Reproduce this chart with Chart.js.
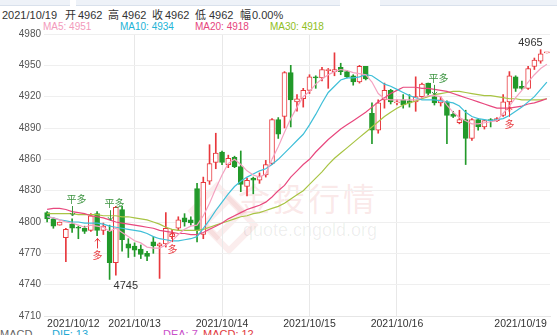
<!DOCTYPE html>
<html>
<head>
<meta charset="utf-8">
<script src="https://cdn.jsdelivr.net/npm/chart.js@4.4.0/dist/chart.umd.min.js"></script>
<style>
    body
    {
        margin: 0;
        width: 557px;
        height: 335px;
        overflow: hidden;
        position: relative;
        background: #ffffff;
        font-family: "Liberation Sans", Arial, "Noto Sans CJK SC", sans-serif;
    }
    .tab { position: absolute; top: 0; height: 5px; background: #eef2f8; border-bottom: 1px solid #d9e1ec; }
    .txt { position: absolute; white-space: nowrap; line-height: 12px; }
    #watermark { position: absolute; left: 0; top: 0; width: 557px; height: 335px; }
    .wm-logo { position: absolute; width: 30px; height: 30px; border: 6px solid rgba(232, 140, 140, 0.16); transform: rotate(45deg); }
    .wm-title { position: absolute; left: 238px; top: 174px; font-size: 32px; letter-spacing: 3px; color: rgba(232, 140, 140, 0.2); font-family: "Noto Sans CJK SC", sans-serif; }
    .wm-url { position: absolute; left: 243px; top: 220px; font-size: 18px; color: rgba(0, 0, 0, 0.07); }
    #wrap { position: absolute; left: 0; top: 0; width: 557px; height: 335px; }
</style>
</head>
<body>
<div class="tab" style="left:0;width:70px"></div>
<div class="tab" style="left:76px;width:264px"></div>
<div class="tab" style="left:380px;width:177px"></div>

<div id="watermark">
    <div class="wm-logo" style="left:196px;top:190px"></div>
    <div class="wm-logo" style="left:208px;top:204px"></div>
    <div class="wm-title">金投行情</div>
    <div class="wm-url">quote.cngold.org</div>
</div>

<div id="header"></div>

<div id="wrap"><canvas id="kChart"></canvas></div>

<script>
const dayLabels = ["2021/10/12", "2021/10/13", "2021/10/14", "2021/10/15", "2021/10/16", "2021/10/19"];
const dayIndex = [0, 14, 28, 42, 56, 80];
const yTicks = {min: 4710, max: 4980, step: 30};

const openPrice = [
    4809, 4803, 4797, 4785, 4798, 4795, 4794, 4792, 4808, 4792,
    4791, 4761, 4812, 4779, 4777, 4774, 4770, 4781, 4777, 4779,
    4786, 4794, 4804, 4802, 4832, 4788, 4839, 4857, 4867, 4855,
    4862, 4853, 4834, 4842, 4840, 4845, 4856, 4898, 4901, 4943,
    4915, 4918, 4926, 4939, 4938, 4945, 4944, 4948, 4944, 4940,
    4934, 4949, 4904, 4888, 4917, 4926, 4914, 4917, 4916, 4915,
    4920, 4933, 4920, 4914, 4915, 4903, 4895, 4898, 4880, 4898,
    4891, 4898, 4897, 4902, 4915, 4939, 4930, 4928, 4949, 4954,
    4962
];
const highPrice = [
    4810, 4804, 4800, 4794, 4803, 4796, 4796, 4808, 4810, 4799,
    4797, 4815, 4815, 4784, 4780, 4778, 4772, 4786, 4780, 4809,
    4793, 4805, 4808, 4805, 4837, 4843, 4874, 4885, 4868, 4864,
    4863, 4868, 4842, 4843, 4847, 4859, 4899, 4900, 4944, 4950,
    4922, 4928, 4941, 4940, 4948, 4947, 4962, 4952, 4945, 4941,
    4950, 4949, 4914, 4917, 4933, 4927, 4917, 4922, 4922, 4939,
    4933, 4933, 4923, 4920, 4916, 4906, 4907, 4907, 4899, 4899,
    4898, 4899, 4900, 4922, 4944, 4940, 4935, 4949, 4957, 4965,
    4962
];
const lowPrice = [
    4800, 4794, 4797, 4762, 4790, 4784, 4789, 4791, 4787, 4788,
    4745, 4749, 4772, 4766, 4767, 4765, 4763, 4770, 4746, 4776,
    4784, 4792, 4796, 4797, 4781, 4784, 4836, 4851, 4855, 4852,
    4852, 4829, 4825, 4827, 4837, 4843, 4855, 4880, 4890, 4891,
    4906, 4910, 4923, 4928, 4935, 4928, 4940, 4941, 4938, 4931,
    4933, 4936, 4875, 4885, 4909, 4913, 4912, 4909, 4910, 4906,
    4918, 4920, 4912, 4911, 4875, 4900, 4894, 4855, 4878, 4888,
    4889, 4891, 4896, 4901, 4906, 4925, 4927, 4927, 4946, 4952,
    4962
];
const closePrice = [
    4803, 4796, 4800, 4793, 4794, 4794, 4791, 4806, 4792, 4796,
    4761, 4814, 4783, 4775, 4773, 4769, 4767, 4777, 4779, 4794,
    4789, 4802, 4800, 4799, 4792, 4838, 4856, 4866, 4857, 4861,
    4853, 4836, 4840, 4840, 4844, 4855, 4898, 4884, 4943, 4917,
    4918, 4926, 4939, 4938, 4946, 4946, 4946, 4944, 4939, 4934,
    4949, 4937, 4888, 4914, 4926, 4915, 4915, 4912, 4914, 4920,
    4932, 4923, 4914, 4917, 4902, 4901, 4898, 4880, 4898, 4891,
    4897, 4897, 4899, 4915, 4940, 4928, 4928, 4947, 4955, 4961,
    4962
];

const ma5 = [
    4805, 4804, 4802, 4800, 4799, 4797, 4795, 4797, 4796, 4795,
    4791, 4794, 4790, 4786, 4782, 4780, 4776, 4775, 4775, 4778,
    4782, 4788, 4793, 4796, 4797, 4806, 4818, 4832, 4845, 4856,
    4860, 4855, 4849, 4845, 4843, 4846, 4860, 4872, 4886, 4899,
    4910, 4920, 4925, 4932, 4937, 4941, 4944, 4946, 4945, 4943,
    4942, 4941, 4934, 4923, 4918, 4917, 4917, 4917, 4917, 4917,
    4919, 4921, 4921, 4920, 4912, 4905, 4900, 4897, 4894, 4894,
    4895, 4896, 4897, 4904, 4911, 4919, 4926, 4934, 4941, 4947,
    4951
];
const ma10 = [
    4805, 4804, 4802, 4801, 4800, 4800, 4799, 4799, 4799, 4798,
    4796, 4795, 4794, 4793, 4792, 4791, 4789, 4786, 4784, 4783,
    4782, 4782, 4783, 4784, 4786, 4794, 4802, 4811, 4819, 4827,
    4834, 4839, 4843, 4846, 4849, 4851, 4855, 4860, 4866, 4872,
    4878, 4884, 4893, 4903, 4914, 4924, 4930, 4936, 4938, 4938,
    4939, 4941, 4940, 4936, 4932, 4930, 4927, 4924, 4921, 4919,
    4917, 4917, 4917, 4916, 4915, 4914, 4911, 4905, 4901, 4899,
    4898, 4897, 4898, 4899, 4902, 4906, 4910, 4915, 4920, 4927,
    4934
];
const ma20 = [
    4812, 4813, 4813, 4812, 4810, 4809, 4808, 4806, 4805, 4804,
    4802, 4800, 4799, 4798, 4797, 4796, 4795, 4794, 4792, 4791,
    4790, 4789, 4789, 4788, 4788, 4790, 4793, 4796, 4799, 4803,
    4806, 4809, 4812, 4814, 4816, 4819, 4824, 4830, 4835, 4843,
    4849, 4855, 4860, 4867, 4873, 4879, 4884, 4889, 4893, 4897,
    4901, 4905, 4910, 4915, 4919, 4923, 4926, 4929, 4929, 4929,
    4928, 4928, 4927, 4926, 4925, 4923, 4921, 4919, 4917, 4915,
    4913, 4911, 4909, 4909, 4909, 4910, 4911, 4913, 4914, 4916,
    4918
];
const ma30 = [
    4808, 4808, 4808, 4808, 4808, 4807, 4807, 4807, 4807, 4806,
    4806, 4806, 4805, 4805, 4804, 4803, 4802, 4800, 4798, 4795,
    4793, 4792, 4792, 4792, 4792, 4793, 4795, 4797, 4799, 4801,
    4803, 4805, 4806, 4808, 4809, 4811, 4813, 4815, 4818, 4822,
    4826, 4830, 4836, 4842, 4848, 4855, 4861, 4866, 4871, 4876,
    4881, 4886, 4891, 4896, 4901, 4905, 4909, 4912, 4914, 4916,
    4918, 4920, 4922, 4923, 4924, 4925, 4925, 4924, 4923, 4922,
    4921, 4921, 4920, 4919, 4918, 4918, 4917, 4917, 4917, 4917,
    4918
];

// trade signals: candle index, text, price where the text sits
const signalIndex = [4, 10, 62, 8, 20, 74];
const signalText = ["平多", "平多", "平多", "多", "多", "多"];
const signalPrice = [4822, 4818, 4938, 4768, 4774, 4894];

const macdNames = ["MACD", "DIF: 13", "DEA: 7", "MACD: 12"];

const upColor = "#e8383d";
const downColor = "#22992a";
const closeLongColor = "#3c9440";
const maColors = ["#f4a3c1", "#3fbfd8", "#e8487e", "#a8c444"];
const maTextColors = ["#f39abb", "#22b3d6", "#e6457d", "#8fbe22"];

const isUp = (i) => closePrice[i] >= openPrice[i];

const buildHeader = () =>
{
    const header = document.getElementById("header");
    const last = closePrice.length - 1;
    const change = ((closePrice[last] - openPrice[last]) / openPrice[last] * 100).toFixed(2) + "%";

    const line1 = [
        [dayLabels[dayLabels.length - 1], 2], ["开", 65], [String(openPrice[last]), 78],
        ["高", 108], [String(highPrice[last]), 122], ["收", 152], [String(closePrice[last]), 165],
        ["低", 195], [String(lowPrice[last]), 209], ["幅", 240], [change, 252]
    ];
    line1.forEach(([text, left]) =>
    {
        const span = document.createElement("div");
        span.className = "txt";
        span.style.cssText = "left:" + left + "px;top:9px;font-size:11px;color:#333";
        span.innerText = text;
        header.appendChild(span);
    });

    const maNames = ["MA5", "MA10", "MA20", "MA30"];
    const maLists = [ma5, ma10, ma20, ma30];
    const maLeft = [43, 120, 195, 270];
    maNames.forEach((name, n) =>
    {
        const span = document.createElement("div");
        span.className = "txt";
        span.style.cssText = "left:" + maLeft[n] + "px;top:21px;font-size:10px;color:" + maTextColors[n];
        span.innerText = name + ": " + maLists[n][maLists[n].length - 1];
        header.appendChild(span);
    });

    const macdLeft = [0, 52, 163, 203];
    const macdColors = ["#666", "#1fa9d4", "#c950c9", "#e0393e"];
    macdNames.forEach((name, n) =>
    {
        const span = document.createElement("div");
        span.className = "txt";
        span.style.cssText = "left:" + macdLeft[n] + "px;top:328px;font-size:11px;color:" + macdColors[n];
        span.innerText = name;
        header.appendChild(span);
    });
};

const crisp = (v) => Math.round(v) + 0.5;

const markerPlugin = {
    id: "markers",
    afterDatasetsDraw(chart)
    {
        const ctx = chart.ctx;
        const xScale = chart.scales.x;
        const yScale = chart.scales.y;

        ctx.save();
        ctx.font = "10px 'Noto Sans CJK SC', sans-serif";
        ctx.textAlign = "center";
        ctx.textBaseline = "middle";
        ctx.lineWidth = 1;

        signalIndex.forEach((idx, n) =>
        {
            const isClose = signalText[n] === "平多";
            const color = isClose ? closeLongColor : upColor;
            const x = crisp(xScale.getPixelForValue(idx));
            const ty = yScale.getPixelForValue(signalPrice[n]);
            const dir = isClose ? 1 : -1;
            const y0 = ty + dir * 7;
            const y1 = ty + dir * 17;

            ctx.fillStyle = color;
            ctx.strokeStyle = color;
            ctx.fillText(signalText[n], isClose ? x + 4 : x, ty);

            ctx.beginPath();
            ctx.moveTo(x, y0);
            ctx.lineTo(x, y1);
            ctx.moveTo(x - 2.5, y1 - dir * 3);
            ctx.lineTo(x, y1);
            ctx.lineTo(x + 2.5, y1 - dir * 3);
            ctx.stroke();
        });

        // highest high and lowest low labels
        const maxHigh = Math.max(...highPrice);
        const minLow = Math.min(...lowPrice);
        const hi = highPrice.indexOf(maxHigh);
        const lo = lowPrice.indexOf(minLow);

        ctx.font = "11px 'Liberation Sans', Arial, sans-serif";
        ctx.fillStyle = "#333";
        ctx.textAlign = "right";
        ctx.textBaseline = "bottom";
        ctx.fillText(String(maxHigh), xScale.getPixelForValue(hi) + 2, yScale.getPixelForValue(maxHigh) - 1);
        ctx.textAlign = "left";
        ctx.textBaseline = "top";
        ctx.fillText(String(minLow), xScale.getPixelForValue(lo) + 4, yScale.getPixelForValue(minLow) + 1);
        ctx.restore();
    }
};

const buildChart = () =>
{
    const labels = openPrice.map(() => "");
    dayIndex.forEach((idx, n) =>
    {
        labels[idx] = dayLabels[n];
    });
    const gridIndex = dayIndex.slice(1, -1);

    const candleColor = openPrice.map((v, i) => isUp(i) ? upColor : downColor);

    const maLines = [ma5, ma10, ma20, ma30].map((list, n) => ({
        type: "line",
        data: list,
        borderColor: maColors[n],
        borderWidth: 1.2,
        pointRadius: 0,
        tension: 0,
        order: 0
    }));

    Chart.defaults.font.family = "'Liberation Sans', Arial, sans-serif";

    new Chart(document.getElementById("kChart"), {
        type: "bar",
        data: {
            labels: labels,
            datasets: [
                ...maLines,
                {
                    label: "body",
                    data: openPrice.map((v, i) => [openPrice[i], closePrice[i]]),
                    backgroundColor: openPrice.map((v, i) => isUp(i) ? "#ffffff" : downColor),
                    borderColor: candleColor,
                    borderWidth: 1,
                    borderSkipped: false,
                    barThickness: 5,
                    minBarLength: 1,
                    grouped: false,
                    order: 1
                },
                {
                    label: "wick",
                    data: openPrice.map((v, i) => [lowPrice[i], highPrice[i]]),
                    backgroundColor: candleColor,
                    borderWidth: 0,
                    barThickness: 1,
                    grouped: false,
                    order: 2
                }
            ]
        },
        options: {
            responsive: true,
            maintainAspectRatio: false,
            animation: false,
            devicePixelRatio: 1,
            layout: {padding: {top: 34, right: 7, left: 0, bottom: 0}},
            plugins: {
                legend: {display: false},
                tooltip: {enabled: false}
            },
            scales: {
                x: {
                    offset: true,
                    ticks: {
                        autoSkip: false,
                        maxRotation: 0,
                        minRotation: 0,
                        align: "inner",
                        color: "#333",
                        font: {size: 10.5},
                        padding: 2
                    },
                    grid: {
                        offset: false,
                        drawTicks: false,
                        color: (ctx) => gridIndex.includes(ctx.index) ? "#e8e8e8" : "rgba(0,0,0,0)"
                    },
                    border: {display: true, color: "#e6e6e6"},
                    afterFit: (scale) =>
                    {
                        scale.height = 19;
                    }
                },
                y: {
                    min: yTicks.min,
                    max: yTicks.max,
                    ticks: {
                        stepSize: yTicks.step,
                        color: "#555",
                        font: {size: 10},
                        padding: 3,
                        callback: (value) => String(value)
                    },
                    grid: {color: "#efefef", drawTicks: false},
                    border: {display: false},
                    afterFit: (scale) =>
                    {
                        scale.width = 44;
                    }
                }
            }
        },
        plugins: [markerPlugin]
    });
};

buildHeader();
buildChart();
</script>
</body>
</html>
